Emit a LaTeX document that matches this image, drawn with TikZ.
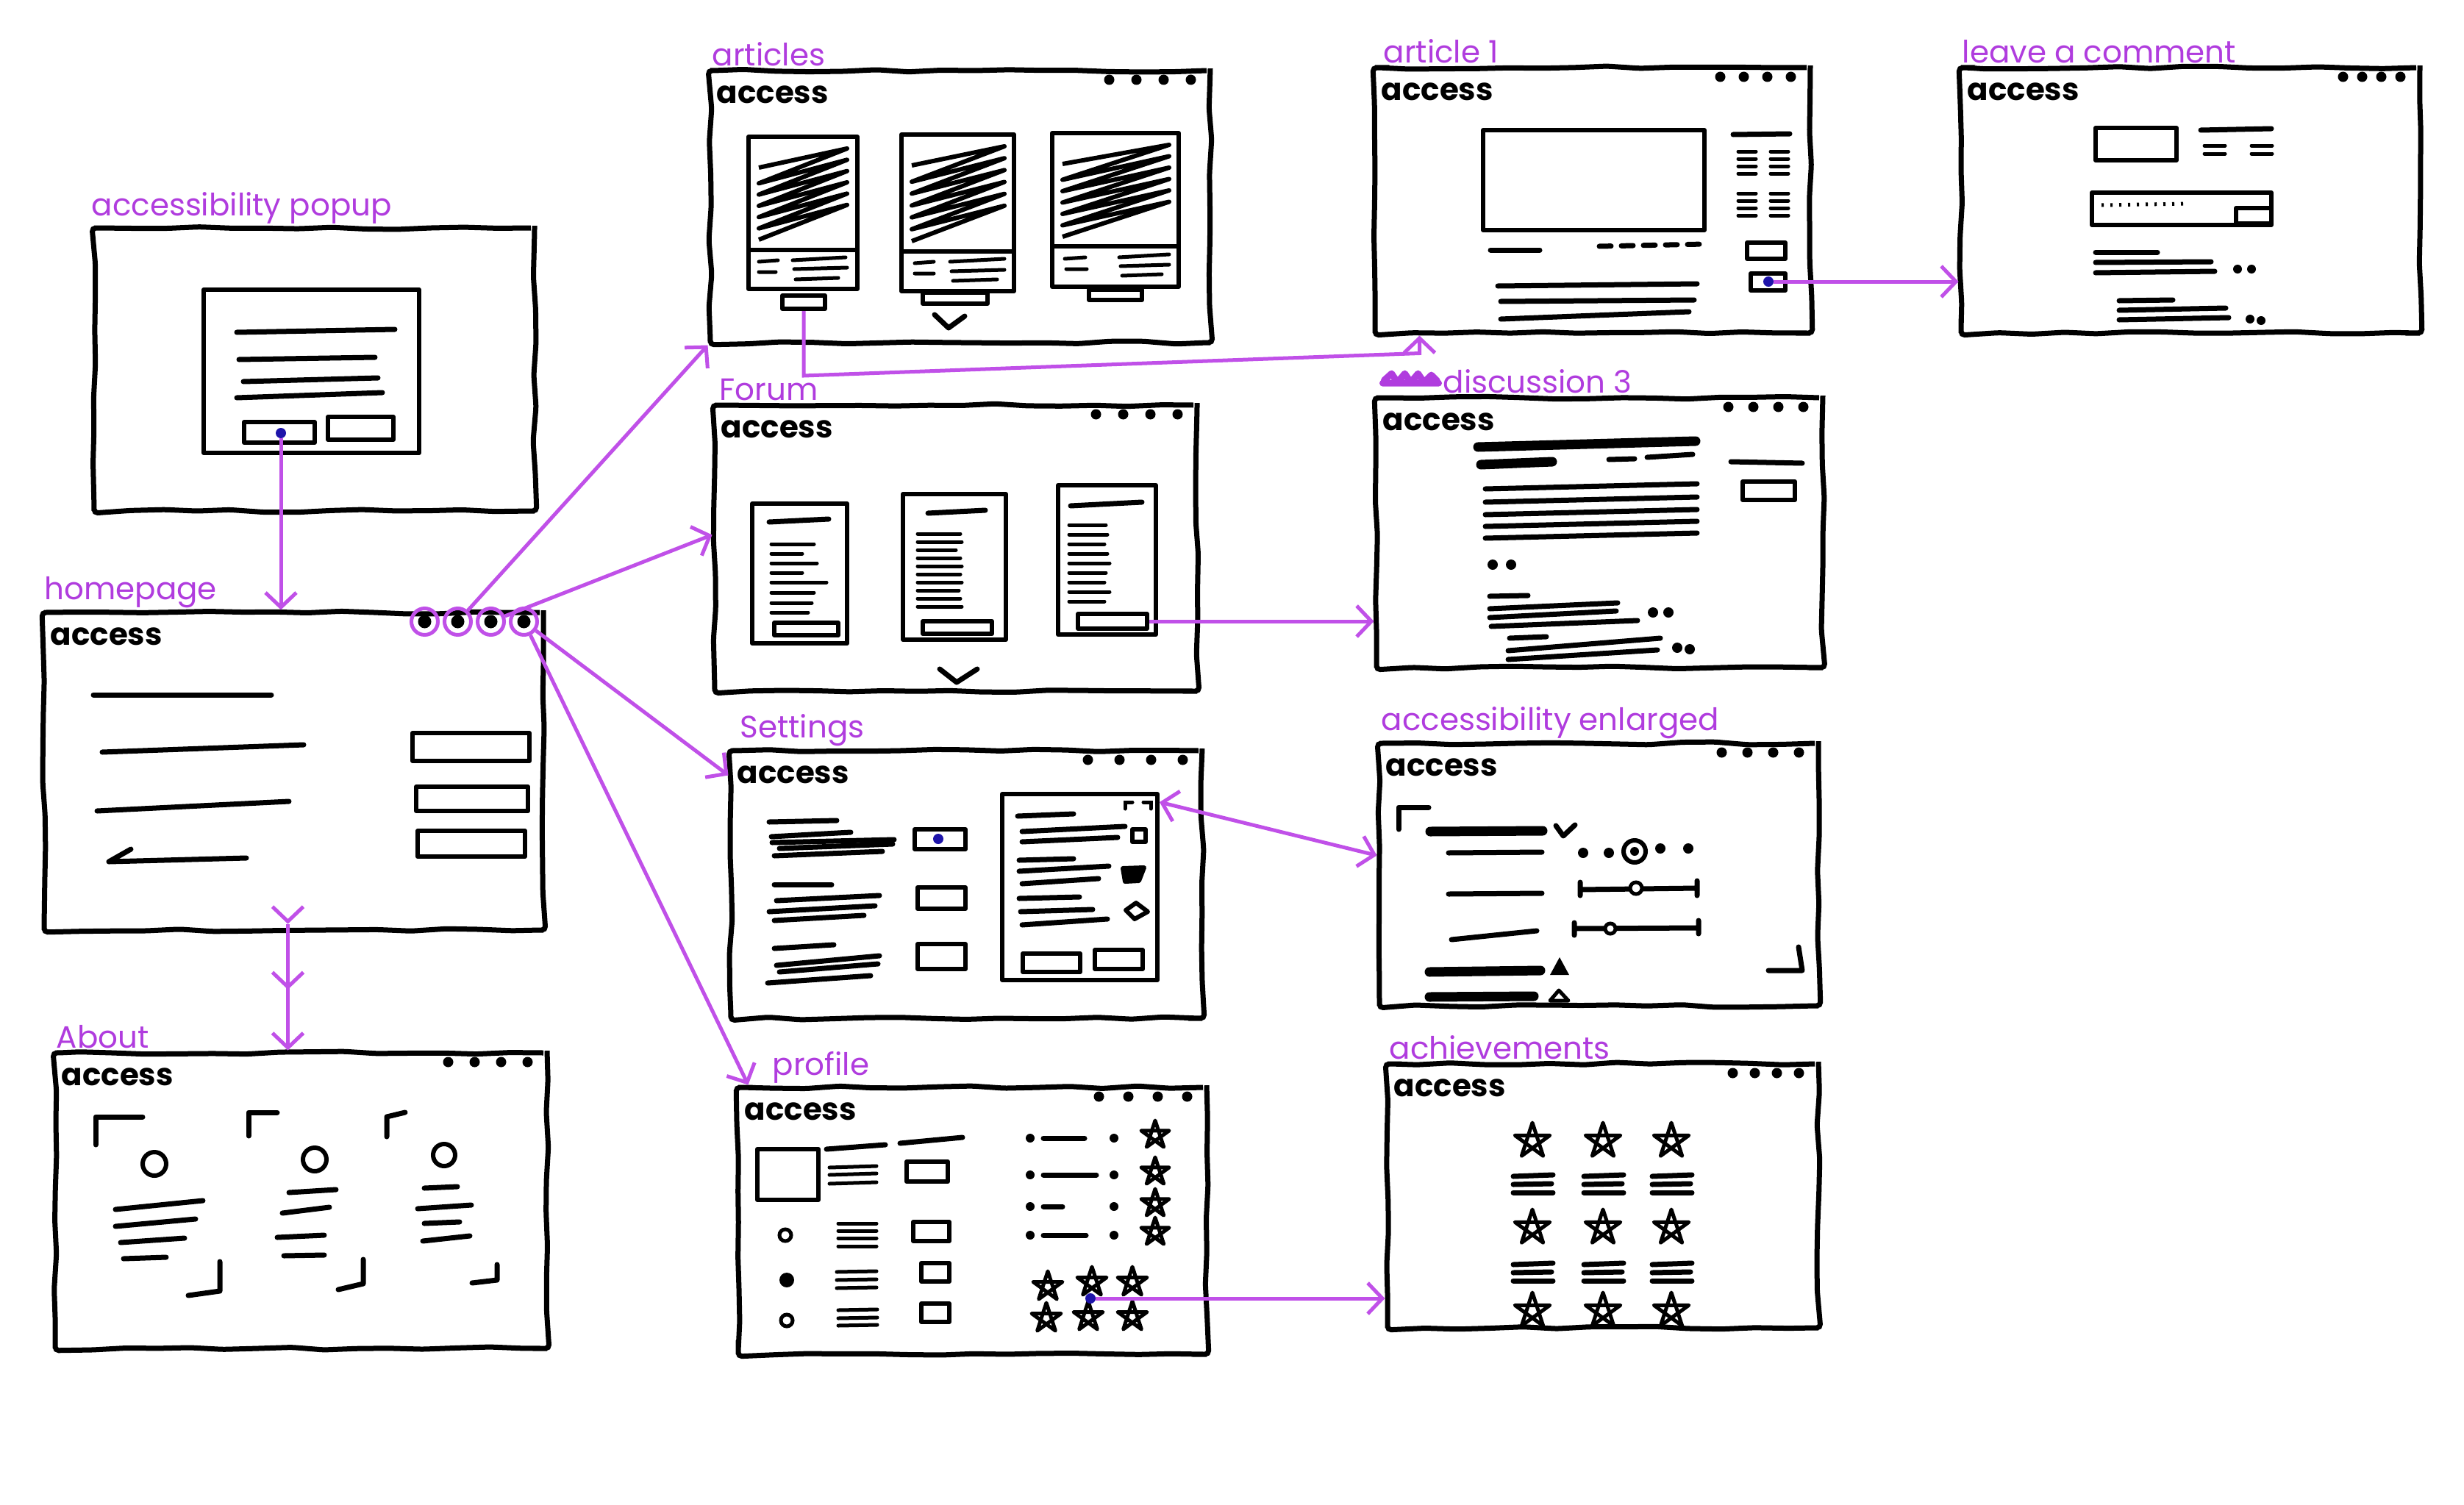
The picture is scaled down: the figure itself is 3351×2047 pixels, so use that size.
\documentclass[tikz,border=0pt]{standalone}
\usepackage{fontspec}
\setmainfont{Poppins}
\usetikzlibrary{positioning,arrows.meta,decorations.pathmorphing,decorations.markings}

\definecolor{ink}{RGB}{176,60,222}
\definecolor{wire}{RGB}{192,80,232}
\definecolor{pendot}{RGB}{30,20,170}

% one browser window: name, x, y, width, height, label, label shift, dot gap, dot style
\newcommand{\sketchwin}[9]{%
  \node[frame, minimum width=#4pt, minimum height=#5pt] (#1) at (#2,#3) {};
  \node[lbl, above right=2pt and #7pt of #1.north west] (#1-lbl) {#6};
  \node[brand] (#1-acc) at ([xshift=12pt,yshift=-48pt]#1.north west) {access};
  \foreach \k in {1,...,4}
    \node[#9] (#1-d\k) at ([xshift={-30pt-(4-\k)*#8pt}, yshift=-16pt]#1.north east) {};
}
% scribbled picture inside a card
\newcommand{\scribblefill}[4]{%
  \pgfmathsetmacro\hstep{(#4-#2-40)/6}
  \draw[hatchline] (#1,#2+30) \foreach \k in {0,...,5}{ -- (#3,{#2+\k*\hstep+4}) -- (#1,{#2+(\k+1)*\hstep+36}) };
}

\begin{document}
\begin{tikzpicture}[x=1pt, y=-1pt,
  frame/.style={draw, line width=7pt, inner sep=0pt, rounded corners=5pt,
    decorate, decoration={random steps, segment length=45pt, amplitude=2pt}},
  lbl/.style={text=ink, inner sep=0pt, font=\fontsize{42}{46}\selectfont},
  brand/.style={anchor=base west, inner sep=0pt, font=\fontsize{42}{46}\selectfont\bfseries},
  tabdot/.style={circle, fill, inner sep=0pt, minimum size=14pt},
  homedot/.style={circle, draw=wire, line width=5pt, inner sep=0pt, minimum size=36pt,
    path picture={\fill[black] (path picture bounding box.center) circle (9pt);}},
  txt/.style={line width=7pt, line cap=round, line join=round},
  thinline/.style={line width=5pt, line cap=round},
  bar/.style={line width=13pt, line cap=round},
  box/.style={draw, line width=6pt, line join=round},
  hatchline/.style={line width=6pt, line join=round},
  bluedot/.style={circle, fill=pendot, inner sep=0pt, minimum size=14pt},
  conn/.style={draw=wire, line width=5pt, -{Straight Barb[length=20pt, width=42pt]}},
  star5/.pic={\draw[line width=5pt, line join=round] (-90:1) -- (54:1) -- (198:1) -- (-18:1) -- (126:1) -- cycle;}
]
\pgfmathsetseed{7}
\path[use as bounding box, fill=white] (0,0) rectangle (3351,2047);

% accessibility popup
\node[frame, minimum width=599pt, minimum height=385pt] (popup) at (427.5,502.5) {};
\node[lbl, above right=2pt and 0pt of popup.north west] (popup-lbl) {accessibility popup};
\node[box, minimum width=293pt, minimum height=222pt, inner sep=0pt] (dialog) at (423.5,505) {};
\draw[txt] (322,452) -- (537,448);
\draw[txt] (325,489) -- (510,486);
\draw[txt] (331,519) -- (514,514);
\draw[txt] (322,541) -- (520,534);
\draw[box] (332,574) rectangle (428,602);
\draw[box] (446,567) rectangle (535,598);
\node[bluedot] (popbtn) at (382,589) {};

% homepage
\sketchwin{home}{399.5}{1049}{679}{432}{homepage}{4}{45}{homedot}
\draw[txt] (127,945) -- (369,945);
\draw[txt] (139,1023) -- (413,1013);
\draw[txt] (132,1103) -- (393,1090);
\draw[txt] (178,1155) -- (148,1172) -- (335,1167);
\draw[box] (561,997) rectangle (720,1035);
\draw[box] (566,1070) rectangle (718,1103);
\draw[box] (568,1130) rectangle (714,1165);

% about
\sketchwin{about}{409.5}{1633}{669}{402}{About}{5}{36}{tabdot}
\draw[txt] (130,1557) -- (130,1519) -- (194,1519);
\draw[line width=6pt] (210,1583) circle (16pt);
\draw[txt] (157,1645) -- (276,1633);
\draw[txt] (157,1668) -- (266,1658);
\draw[txt] (164,1690) -- (251,1684);
\draw[txt] (168,1712) -- (226,1710);
\draw[txt] (256,1762) -- (299,1756) -- (299,1716);
\draw[txt] (338,1545) -- (338,1513) -- (377,1513);
\draw[line width=6pt] (428,1577) circle (16pt);
\draw[txt] (393,1622) -- (457,1618);
\draw[txt] (384,1650) -- (448,1642);
\draw[txt] (377,1683) -- (441,1680);
\draw[txt] (386,1708) -- (441,1707);
\draw[txt] (460,1754) -- (494,1746) -- (494,1713);
\draw[txt] (526,1546) -- (526,1519) -- (551,1513);
\draw[line width=6pt] (604,1571) circle (15pt);
\draw[txt] (577,1616) -- (622,1614);
\draw[txt] (568,1644) -- (641,1639);
\draw[txt] (577,1664) -- (625,1662);
\draw[txt] (575,1688) -- (639,1681);
\draw[txt] (642,1745) -- (676,1741) -- (676,1720);

% articles
\sketchwin{articles}{1306}{281}{680}{370}{articles}{6}{37}{tabdot}
\draw[box] (1018,186) rectangle (1166,393);
\draw[box] (1018,340) -- (1166,340);
\scribblefill{1032}{198}{1152}{330}
\draw[thinline] (1032,356) -- (1058,354) (1032,370) -- (1055,370);
\draw[thinline] (1078,354) -- (1150,350) (1080,366) -- (1152,364) (1082,380) -- (1140,378);
\node[box, minimum width=58pt, minimum height=18pt, inner sep=0pt] (artbtn) at (1093,411) {};
\draw[box] (1226,183) rectangle (1379,396);
\draw[box] (1226,342) -- (1379,342);
\scribblefill{1240}{195}{1366}{332}
\draw[thinline] (1244,358) -- (1270,356) (1244,372) -- (1270,372);
\draw[thinline] (1292,356) -- (1366,352) (1294,369) -- (1366,367) (1296,382) -- (1356,380);
\draw[box] (1255,398) rectangle (1343,413);
\draw[box] (1431,181) rectangle (1603,390);
\draw[box] (1431,335) -- (1603,335);
\scribblefill{1445}{193}{1590}{326}
\draw[thinline] (1448,352) -- (1476,350) (1450,366) -- (1478,366);
\draw[thinline] (1522,350) -- (1590,346) (1524,362) -- (1590,360) (1526,375) -- (1580,373);
\draw[box] (1481,394) rectangle (1553,408);
\draw[txt] (1271,428) -- (1290,446) -- (1312,430);

% article 1
\sketchwin{article1}{2166}{272.5}{592}{361}{article 1}{15}{32}{tabdot}
\draw[box] (2017,177) rectangle (2318,313);
\draw[txt] (2357,183) -- (2434,182);
\foreach \yy in {206,216,226,236,263,273,283,293} {
  \draw[thinline] (2364,\yy) -- (2388,\yy);
  \draw[thinline] (2408,\yy) -- (2432,\yy);
}
\draw[box] (2376,330) rectangle (2428,352);
\node[box, minimum width=47pt, minimum height=23pt, inner sep=0pt] (art1box) at (2404.5,383.5) {};
\node[bluedot] (artlink) at (2405,383) {};
\draw[txt] (2027,340) -- (2094,340);
\draw[txt, dash pattern=on 16pt off 14pt] (2175,335) -- (2318,332);
\draw[txt] (2037,389) -- (2308,386);
\draw[txt] (2041,410) -- (2304,408);
\draw[txt] (2041,434) -- (2297,424);

% leave a comment
\sketchwin{comment}{2979}{272.5}{624}{361}{leave a comment}{5}{26}{tabdot}
\draw[box] (2850,174) rectangle (2960,218);
\draw[txt] (2993,177) -- (3089,175);
\foreach \xx in {2998,3062} {
  \draw[thinline] (\xx,198) -- ++(28,0);
  \draw[thinline] (\xx,209) -- ++(28,0);
}
\draw[box] (2845,262) rectangle (3089,306);
\draw[line width=5pt, dash pattern=on 3pt off 9pt] (2858,279) -- (2976,277);
\draw[box] (3041,283) rectangle (3089,304);
\draw[txt] (2850,343) -- (2934,343);
\draw[txt] (2850,357) -- (3007,356);
\draw[txt] (2850,371) -- (3012,369);
\fill (3043,366) circle (6pt) (3062,366) circle (6pt);
\draw[txt] (2882,409) -- (2955,408);
\draw[txt] (2882,422) -- (3027,419);
\draw[txt] (2882,435) -- (3031,432);
\fill (3060,434) circle (6pt) (3075,436) circle (6pt);

% forum
\sketchwin{forum}{1300}{745.5}{656}{389}{Forum}{10}{37}{tabdot}
\draw[box] (1023,685) rectangle (1152,875);
\draw[txt] (1046,710) -- (1127,706);
\foreach \yy/\ll in {740/58,753/42,766/62,779/42,792/75,806/58,820/55,833/50}
  \draw[thinline] (1049,\yy) -- ++(\ll,0);
\draw[box] (1053,847) rectangle (1140,864);
\draw[box] (1228,672) rectangle (1368,870);
\draw[txt] (1262,698) -- (1340,694);
\foreach \yy/\ll in {726/58,737/60,748/52,759/58,770/60,781/58,792/60,803/56,814/58,825/60}
  \draw[thinline] (1248,\yy) -- ++(\ll,0);
\draw[box] (1255,845) rectangle (1349,862);
\draw[box] (1439,660) rectangle (1572,863);
\draw[txt] (1456,688) -- (1553,683);
\foreach \yy/\ll in {714/50,727/52,740/48,753/52,766/55,779/50,792/48,805/55,818/48}
  \draw[thinline] (1454,\yy) -- ++(\ll,0);
\node[box, minimum width=94pt, minimum height=20pt, inner sep=0pt] (forumbtn) at (1513,845) {};
\draw[txt] (1278,910) -- (1301,928) -- (1329,910);

% discussion 3
\sketchwin{discussion}{2175.5}{724.5}{607}{367}{discussion 3}{94}{34}{tabdot}
\draw[ink, line width=9pt, line cap=round, line join=round]
  ([xshift=-80pt,yshift=2pt]discussion-lbl.west) -- ++(10,-9) -- ++(8,12) -- ++(10,-12) -- ++(8,12) -- ++(10,-12) -- ++(8,12) -- ++(10,-10) -- ++(8,8)
  ([xshift=-82pt,yshift=-2pt]discussion-lbl.west) -- ++(76,0);
\draw[bar] (2010,608) -- (2306,600);
\draw[bar] (2014,632) -- (2111,628);
\draw[txt] (2188,625) -- (2223,624);
\draw[txt] (2240,622) -- (2302,618);
\foreach \yy in {662,680,697,713,729}
  \draw[txt] (2020,\yy+3) -- (2308,\yy-4);
\draw[txt] (2354,628) -- (2451,630);
\draw[box] (2370,655) rectangle (2441,680);
\fill (2030,768) circle (7pt) (2055,768) circle (7pt);
\draw[txt] (2026,811) -- (2078,810);
\draw[txt] (2026,828) -- (2200,820);
\draw[txt] (2026,840) -- (2198,831);
\draw[txt] (2028,852) -- (2227,844);
\fill (2248,833) circle (7pt) (2269,833) circle (7pt);
\draw[txt] (2053,868) -- (2103,866);
\draw[txt] (2051,885) -- (2258,868);
\draw[txt] (2051,897) -- (2254,884);
\fill (2281,881) circle (7pt) (2298,883) circle (7pt);

% settings
\sketchwin{settings}{1314.5}{1203}{641}{364}{Settings}{16}{43}{tabdot}
\draw[txt] (1046,1118) -- (1138,1116);
\draw[txt] (1049,1138) -- (1157,1132);
\draw[txt] (1050,1146) -- (1216,1142);
\draw[txt] (1060,1154) -- (1214,1148);
\draw[txt] (1053,1164) -- (1200,1158);
\draw[box] (1244,1128) rectangle (1313,1155);
\node[bluedot] (setdot) at (1276,1141) {};
\draw[txt] (1053,1203) -- (1131,1203);
\draw[txt] (1056,1225) -- (1196,1218);
\draw[txt] (1046,1240) -- (1190,1232);
\draw[txt] (1053,1252) -- (1175,1245);
\draw[box] (1248,1207) rectangle (1313,1236);
\draw[txt] (1053,1290) -- (1134,1285);
\draw[txt] (1056,1313) -- (1196,1300);
\draw[txt] (1060,1322) -- (1194,1311);
\draw[txt] (1044,1337) -- (1184,1327);
\draw[box] (1248,1284) rectangle (1313,1318);
\node[box, minimum width=211pt, minimum height=253pt, inner sep=0pt] (setpanel) at (1468.5,1206.5) {};
\draw[thinline] (1530,1100) -- (1530,1091) -- (1540,1091) (1555,1091) -- (1565,1091) -- (1565,1100);
\draw[txt] (1384,1110) -- (1460,1107);
\draw[txt] (1390,1131) -- (1530,1124);
\draw[txt] (1390,1145) -- (1520,1139);
\draw[box] (1540,1128) rectangle (1558,1145);
\draw[txt] (1386,1170) -- (1460,1168);
\draw[txt] (1386,1185) -- (1508,1178);
\draw[txt] (1390,1202) -- (1494,1195);
\draw[box, fill] (1527,1181) -- (1556,1180) -- (1549,1198) -- (1530,1199) -- cycle;
\draw[txt] (1386,1222) -- (1468,1220);
\draw[txt] (1388,1240) -- (1486,1237);
\draw[txt] (1390,1258) -- (1506,1250);
\draw[box] (1531,1238) -- (1545,1228) -- (1561,1240) -- (1543,1250) -- cycle;
\draw[box] (1391,1297) rectangle (1469,1322);
\draw[box] (1489,1292) rectangle (1554,1318);

% accessibility enlarged
\sketchwin{enlarged}{2174.5}{1189.5}{597}{357}{accessibility enlarged}{6}{35}{tabdot}
\draw[txt] (1902,1128) -- (1902,1098) -- (1943,1098);
\draw[bar] (1945,1131) -- (2098,1130);
\draw[txt] (2116,1123) -- (2126,1137) -- (2142,1122);
\draw[txt] (1970,1160) -- (2097,1159);
\fill (2153,1160) circle (7pt) (2188,1160) circle (7pt) (2223,1158) circle (6pt) (2258,1154) circle (7pt) (2296,1154) circle (7pt);
\draw[line width=6pt] (2223,1158) circle (15pt);
\draw[txt] (1970,1216) -- (2097,1215);
\draw[txt] (2149,1200) -- (2149,1218) (2149,1210) -- (2308,1208) (2308,1198) -- (2308,1218);
\draw[line width=5pt, fill=white] (2225,1208) circle (8pt);
\draw[txt] (1974,1278) -- (2090,1266);
\draw[txt] (2141,1255) -- (2141,1272) (2141,1263) -- (2310,1262) (2310,1252) -- (2310,1270);
\draw[line width=5pt, fill=white] (2190,1263) circle (7pt);
\draw[txt] (2405,1320) -- (2451,1320) -- (2446,1288);
\draw[bar] (1944,1322) -- (2095,1320);
\fill (2108,1326) -- (2121,1302) -- (2134,1326) -- cycle;
\draw[bar] (1944,1356) -- (2086,1355);
\draw[line width=5pt, line join=round] (2108,1361) -- (2120,1347) -- (2133,1361) -- cycle;

% profile
\sketchwin{profile}{1322.5}{1660.5}{637}{363}{profile}{50}{40}{tabdot}
\draw[box] (1030,1563) rectangle (1113,1632);
\draw[txt] (1124,1563) -- (1204,1557);
\draw[txt] (1224,1555) -- (1309,1547);
\foreach \yy in {1588,1598,1610} \draw[thinline] (1128,\yy) -- (1192,\yy-2);
\draw[box] (1233,1580) rectangle (1289,1607);
\draw[line width=5pt] (1068,1680) circle (8pt);
\foreach \yy in {1664,1674,1684,1695} \draw[thinline] (1140,\yy) -- (1192,\yy);
\draw[box] (1242,1662) rectangle (1291,1688);
\fill (1070,1741) circle (10pt);
\foreach \yy in {1730,1741,1752} \draw[thinline] (1138,\yy) -- (1192,\yy-1);
\draw[box] (1253,1718) rectangle (1291,1743);
\draw[line width=5pt] (1070,1796) circle (8pt);
\foreach \yy in {1782,1793,1803} \draw[thinline] (1140,\yy) -- (1193,\yy-1);
\draw[box] (1253,1773) rectangle (1291,1798);
\foreach \yy/\ll in {1548/56,1598/72,1641/26,1680/58} {
  \fill (1401,\yy) circle (6pt) (1515,\yy) circle (6pt);
  \draw[txt] (1419,\yy) -- ++(\ll,0);
  \pic[scale=20] at (1571,\yy-4) {star5};
}
\foreach \xx/\yy in {1425/1750,1485/1744,1540/1744,1423/1793,1480/1791,1540/1791}
  \pic[scale=21] at (\xx,\yy) {star5};
\node[bluedot] (stardot) at (1483,1766) {};

% achievements
\sketchwin{achievements}{2180}{1626.5}{586}{359}{achievements}{6}{30}{tabdot}
\foreach \xx in {2084,2180,2273} {
  \foreach \yy in {1552,1670,1783} \pic[scale=25] at (\xx,\yy) {star5};
  \foreach \yy in {1600,1720} {
    \draw[txt] (\xx-26,\yy) -- (\xx+28,\yy-2);
    \draw[txt] (\xx-26,\yy+11) -- (\xx+26,\yy+10);
    \draw[txt] (\xx-26,\yy+22) -- (\xx+28,\yy+22);
  }
}

% connectors
\draw[conn] (popbtn) -- (popbtn |- home.north);
\draw[conn] (home-d2) -- (articles.south west);
\draw[conn] (home-d3) -- ([yshift=18pt]forum.west);
\draw[conn] (home-d4) -- ([yshift=-37pt]settings.north west);
\draw[conn] (home-d4) -- ([xshift=17pt]profile.north west);
\draw[conn, postaction={decorate}, decoration={markings,
    mark=at position 0.001 with {\arrow{Straight Barb[length=20pt, width=42pt]}},
    mark=at position 0.52 with {\arrow{Straight Barb[length=20pt, width=42pt]}}}]
  ([xshift=-8pt,yshift=12pt]home.south) -- ([xshift=-18pt]about.north);
\draw[conn] (artbtn.south) -- ++(0,88) -- ([xshift=64pt,yshift=-24pt]article1.south west) -- ([xshift=64pt]article1.south west);
\draw[conn] (artlink) -- (artlink -| comment.west);
\draw[conn] (forumbtn.east) -- (forumbtn.east -| discussion.west);
\draw[conn, {Straight Barb[length=20pt, width=42pt]}-{Straight Barb[length=20pt, width=42pt]}]
  ([yshift=-14pt]setpanel.north east) -- ([yshift=26pt]enlarged.west);
\draw[conn] (stardot) -- (stardot -| achievements.west);
\end{tikzpicture}
\end{document}
